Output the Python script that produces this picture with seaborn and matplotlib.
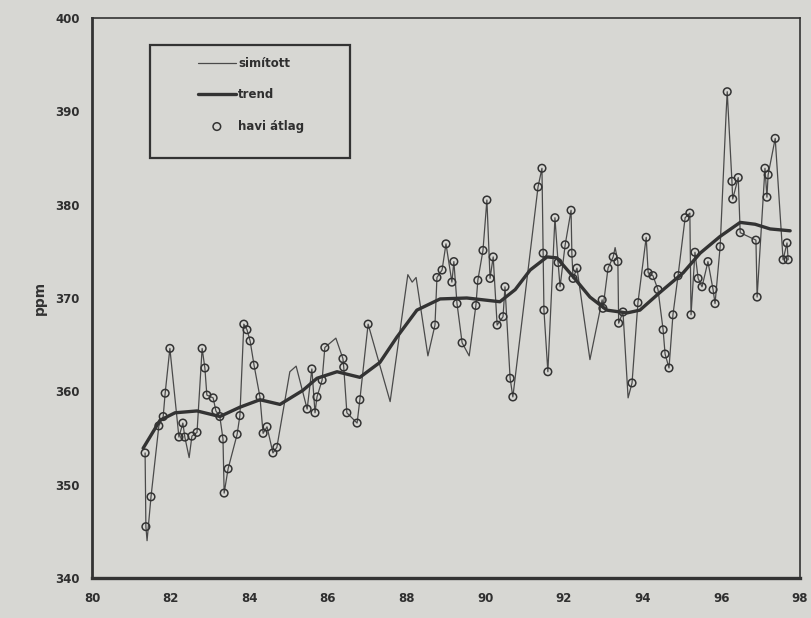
import matplotlib
matplotlib.use("Agg")
import matplotlib.pyplot as plt
import seaborn as sns
import pandas as pd
from matplotlib.patches import Rectangle

# ---- data ----
circle_year = [81.35, 81.37, 81.50, 81.70, 81.81, 81.86, 81.98, 82.21, 82.31, 82.36,
               82.54, 82.67, 82.80, 82.87, 82.92, 83.08, 83.15, 83.25, 83.33, 83.36,
               83.46, 83.69, 83.76, 83.86, 83.94, 84.02, 84.12, 84.27, 84.35, 84.45,
               84.60, 84.70, 85.47, 85.59, 85.67, 85.72, 85.85, 85.92, 86.38, 86.40,
               86.48, 86.74, 86.81, 87.02, 88.72, 88.77, 88.90, 89.00, 89.15, 89.20,
               89.28, 89.41, 89.76, 89.81, 89.94, 90.04, 90.12, 90.20, 90.30, 90.45,
               90.50, 90.63, 90.70, 91.34, 91.44, 91.47, 91.49, 91.59, 91.77, 91.85,
               91.90, 92.03, 92.18, 92.20, 92.23, 92.33, 92.97, 92.99, 93.12, 93.25,
               93.37, 93.39, 93.50, 93.73, 93.88, 94.09, 94.14, 94.26, 94.39, 94.52,
               94.57, 94.67, 94.77, 94.90, 95.08, 95.20, 95.23, 95.33, 95.41, 95.51,
               95.66, 95.79, 95.84, 95.97, 96.15, 96.27, 96.29, 96.43, 96.48, 96.88,
               96.91, 97.11, 97.16, 97.19, 97.37, 97.57, 97.67, 97.70]
circle_ppm = [353.4, 345.5, 348.7, 356.3, 357.3, 359.8, 364.6, 355.1, 356.6, 355.1,
              355.2, 355.6, 364.6, 362.5, 359.6, 359.3, 357.9, 357.3, 354.9, 349.1,
              351.7, 355.4, 357.4, 367.2, 366.6, 365.4, 362.8, 359.4, 355.5, 356.2,
              353.4, 354.0, 358.1, 362.4, 357.7, 359.4, 361.2, 364.7, 363.5, 362.6,
              357.7, 356.6, 359.1, 367.2, 367.1, 372.2, 373.0, 375.8, 371.7, 373.9,
              369.4, 365.2, 369.2, 371.9, 375.1, 380.5, 372.1, 374.4, 367.1, 368.0,
              371.2, 361.4, 359.4, 381.9, 383.9, 374.8, 368.7, 362.1, 378.6, 373.8,
              371.2, 375.7, 379.4, 374.8, 372.1, 373.2, 369.8, 368.9, 373.2, 374.4,
              373.9, 367.3, 368.5, 360.9, 369.5, 376.5, 372.7, 372.4, 370.9, 366.6,
              364.0, 362.5, 368.2, 372.4, 378.6, 379.1, 368.2, 374.9, 372.1, 371.2,
              373.9, 370.9, 369.4, 375.5, 392.1, 382.5, 380.6, 382.9, 377.0, 376.2,
              370.1, 383.9, 380.8, 383.2, 387.1, 374.1, 375.9, 374.1]

# extra vertices of the thin (smoothed) line that have no circle
extra_year = [81.40, 82.47, 85.03, 85.19, 86.20, 87.58, 88.03, 88.14, 88.24, 88.54,
              89.59, 92.66, 93.30, 93.63, 96.12]
extra_ppm = [344.0, 352.9, 362.1, 362.7, 365.7, 358.9, 372.5, 371.7, 372.2, 363.8,
             363.8, 363.4, 375.4, 359.3, 389.6]

trend_year = [81.30, 81.73, 82.11, 82.67, 83.25, 83.76, 84.27, 84.78, 85.36, 85.72,
              86.23, 86.81, 87.32, 87.75, 88.26, 88.85, 89.53, 90.37, 90.76, 91.14,
              91.57, 91.82, 92.23, 92.66, 93.09, 93.60, 93.93, 94.44, 95.03, 95.46,
              95.97, 96.48, 96.86, 97.24, 97.75]
trend_ppm = [353.9, 356.9, 357.7, 357.9, 357.3, 358.3, 359.1, 358.6, 360.1, 361.4,
             362.1, 361.5, 363.1, 365.8, 368.7, 369.9, 370.0, 369.6, 370.9, 373.0,
             374.4, 374.3, 372.3, 370.1, 368.7, 368.4, 368.7, 370.6, 372.7, 374.8,
             376.6, 378.1, 377.9, 377.4, 377.2]

x_ticks = [80, 82, 84, 86, 88, 90, 92, 94, 96, 98]
y_ticks = [340, 350, 360, 370, 380, 390, 400]
labels = ["simított", "trend", "havi átlag"]

# ---- tables ----
circles = pd.DataFrame({"year": circle_year, "ppm": circle_ppm})
thin = pd.DataFrame({"year": circle_year + extra_year,
                     "ppm": circle_ppm + extra_ppm}).sort_values("year")
trend = pd.DataFrame({"year": trend_year, "ppm": trend_ppm})

# ---- style ----
bg = "#d7d7d3"
ink = "#333333"
sns.set_style("white")
plt.rcParams["font.family"] = ["DejaVu Sans"]

fig = plt.figure(figsize=(8.12, 6.18), dpi=100, facecolor=bg)
ax = fig.add_axes([0.1133, 0.0647, 0.8719, 0.9062])
ax.set_facecolor(bg)

sns.lineplot(data=thin, x="year", y="ppm", ax=ax, estimator=None, sort=False,
             color="#4a4a4a", lw=0.9, label=labels[0])
sns.lineplot(data=trend, x="year", y="ppm", ax=ax, estimator=None,
             color=ink, lw=2.4, label=labels[1])
sns.scatterplot(data=circles, x="year", y="ppm", ax=ax, marker="o", s=30,
                facecolors="none", edgecolor=ink, linewidth=1.1, label=labels[2],
                zorder=3)

ax.set_xlim(80, 98)
ax.set_ylim(340, 400)
ax.set_xticks(x_ticks)
ax.set_xticklabels([str(t) for t in x_ticks])
ax.set_yticks(y_ticks)
ax.set_yticklabels([str(t) for t in y_ticks])
ax.set_xlabel("")
ax.set_ylabel("ppm", fontsize=10, fontweight="bold", color=ink, labelpad=6)
ax.tick_params(axis="both", labelsize=8.5, colors=ink, labelcolor="#2f2f2f")
ax.tick_params(axis="y", length=5, width=1.2, direction="out", pad=4)
ax.tick_params(axis="x", length=2, width=1.0, direction="in", pad=10)
for lab in ax.get_xticklabels() + ax.get_yticklabels():
    lab.set_fontweight("bold")

for side, lw in (("left", 2.0), ("bottom", 2.4), ("top", 1.2), ("right", 1.2)):
    ax.spines[side].set_visible(True)
    ax.spines[side].set_color(ink)
    ax.spines[side].set_linewidth(lw)

# legend box
ax.add_patch(Rectangle((0.082, 0.75), 0.282, 0.202, transform=ax.transAxes,
                       fill=False, edgecolor=ink, lw=1.6, zorder=5))
leg = ax.legend(loc="upper left", bbox_to_anchor=(0.138, 0.945), frameon=False,
                fontsize=8.5, handlelength=3.2, handletextpad=0.2,
                labelspacing=1.55, borderpad=0.2)
for t in leg.get_texts():
    t.set_fontweight("bold")
    t.set_color("#2f2f2f")

fig.savefig("out.png", dpi=100, facecolor=bg)
